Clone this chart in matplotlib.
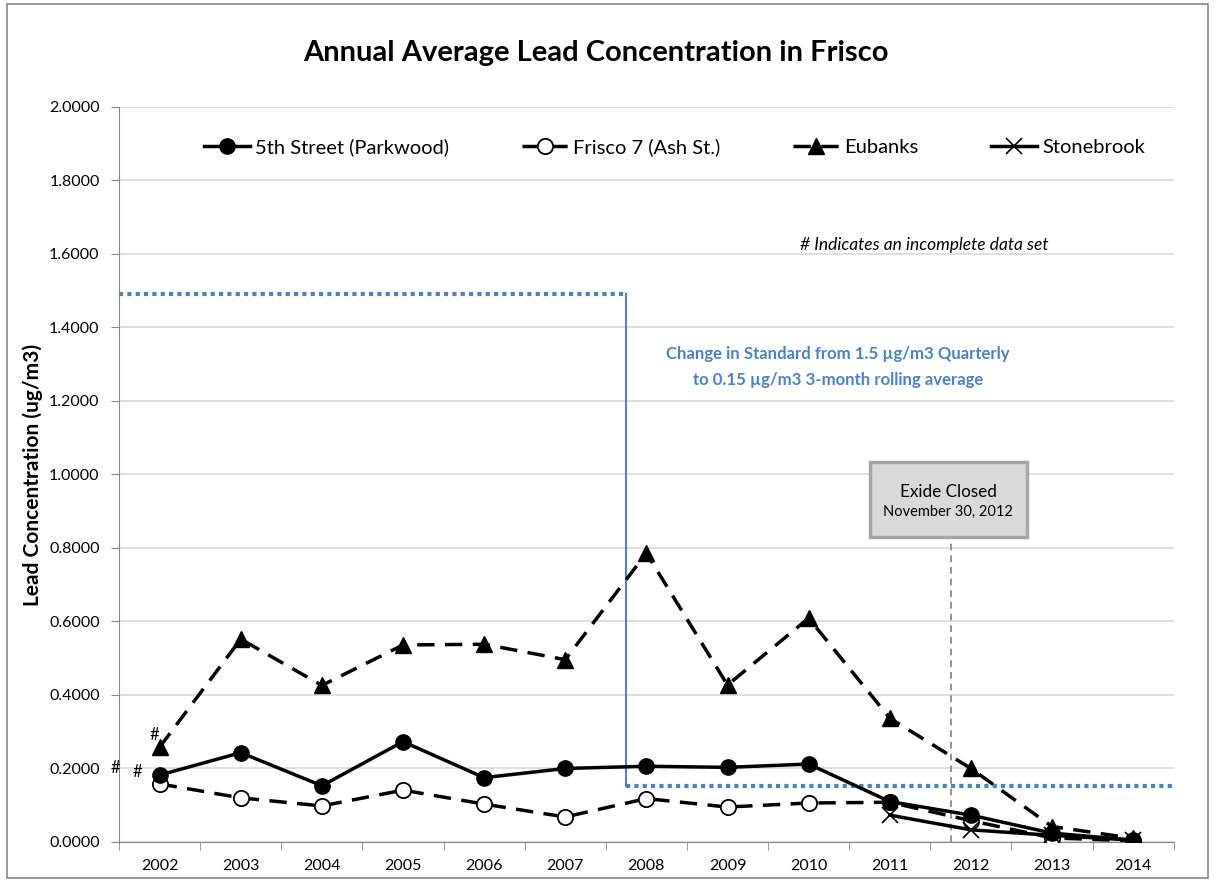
import numpy as np
import matplotlib
matplotlib.use("Agg")
import matplotlib.pyplot as plt
from matplotlib.patches import Rectangle

plt.rcParams['font.family'] = ['Lato', 'DejaVu Sans']

years = ["2002", "2003", "2004", "2005", "2006", "2007", "2008",
         "2009", "2010", "2011", "2012", "2013", "2014"]

fifth_street = [0.182, 0.243, 0.153, 0.273, 0.175, 0.200, 0.206,
                0.203, 0.212, 0.110, 0.073, 0.024, 0.005]
frisco7 = [0.158, 0.120, 0.098, 0.141, 0.103, 0.068, 0.118,
           0.095, 0.106, 0.108, 0.058, 0.011, 0.003]
eubanks = [0.258, 0.552, 0.426, 0.536, 0.538, 0.496, 0.786,
           0.427, 0.609, 0.337, 0.200, 0.042, 0.010]
stonebrook_years = ["2011", "2012", "2013", "2014"]
stonebrook = [0.073, 0.033, 0.018, 0.005]

old_standard = 1.49
new_standard = 0.152

blue = "#4f81bd"

fig = plt.figure(figsize=(12.15, 8.82), dpi=100)
ax = fig.add_axes([0.098, 0.0454, 0.868, 0.8333])

x = np.arange(len(years))
xs = np.array([years.index(y) for y in stonebrook_years])

ax.plot(x, fifth_street, color="black", lw=2.5, marker="o", ms=11,
        mfc="black", mec="black", label="5th Street (Parkwood)", zorder=5)
ax.plot(x, frisco7, color="black", lw=2.5, ls=(0, (5, 3)), marker="o", ms=11,
        mfc="white", mec="black", mew=1.3, label="Frisco 7 (Ash St.)", zorder=4)
ax.plot(x, eubanks, color="black", lw=2.5, ls=(0, (5, 3)), marker="^", ms=12,
        mfc="black", mec="black", label="Eubanks", zorder=4)
ax.plot(xs, stonebrook, color="black", lw=2.5, marker="x", ms=12, mew=1.2,
        label="Stonebrook", zorder=4)

# standards
ax.plot([-0.5, 5.75], [old_standard, old_standard], color=blue, lw=3,
        ls=(0, (1, 1)), zorder=3)
ax.plot([5.75, 5.75], [old_standard, new_standard], color=blue, lw=1.5, zorder=3)
ax.plot([5.75, 12.5], [new_standard, new_standard], color=blue, lw=3,
        ls=(0, (1, 1)), zorder=3)
ax.text(8.36, 1.293, "Change in Standard from 1.5 \u00b5g/m3 Quarterly\nto 0.15 \u00b5g/m3 3-month rolling average",
        color=blue, fontsize=12.1, fontweight="bold", ha="center", va="center",
        linespacing=1.75)

# Exide closure
ax.plot([9.75, 9.75], [0, 0.83], color="#7f7f7f", lw=1.2, ls=(0, (4, 3)), zorder=2)
ax.add_patch(Rectangle((8.76, 0.83), 1.93, 0.205, facecolor="#d9d9d9",
                       edgecolor="#a6a6a6", lw=2.5, zorder=6))
ax.text(9.72, 0.952, "Exide Closed", fontsize=12.3, ha="center", va="center", zorder=7)
ax.text(9.72, 0.898, "November 30, 2012", fontsize=10.5, ha="center", va="center", zorder=7)

ax.text(9.42, 1.625, "# Indicates an incomplete data set", fontsize=12.5,
        style="italic", ha="center", va="center")

# incomplete data marks
ax.text(-0.54, 0.2, "#", fontsize=12, ha="center", va="center", clip_on=False)
ax.text(-0.27, 0.19, "#", fontsize=12, ha="center", va="center", clip_on=False)
ax.text(-0.06, 0.29, "#", fontsize=12, ha="center", va="center", clip_on=False)

ax.set_xlim(-0.5, 12.5)
ax.set_ylim(0, 2.0)
ax.set_yticks(np.arange(0, 2.01, 0.2))
ax.set_yticklabels([f"{v:.4f}" for v in np.arange(0, 2.01, 0.2)])
ax.set_xticks(x)
ax.set_xticklabels(years)
ax.set_xticks(np.arange(-0.5, 12.6, 1), minor=True)
ax.tick_params(axis="x", which="major", length=0, pad=12, labelsize=11.5)
ax.tick_params(axis="x", which="minor", length=6, color="#868686", direction="out")
ax.tick_params(axis="y", length=6, color="#868686", labelsize=11.5, pad=8)
ax.yaxis.grid(True, color="#d9d9d9", lw=1.2)
ax.set_axisbelow(True)
for s in ["top", "right"]:
    ax.spines[s].set_visible(False)
for s in ["left", "bottom"]:
    ax.spines[s].set_color("#868686")

ax.set_ylabel("Lead Concentration (ug/m3)", fontsize=15, fontweight="bold", labelpad=4)

leg = ax.legend(loc="center", bbox_to_anchor=(0.5265, 0.9456), ncol=4, frameon=False,
                fontsize=14.5, columnspacing=3.6, handlelength=2.3, handletextpad=0.25)

fig.text(0.4905, 0.9395, "Annual Average Lead Concentration in Frisco", fontsize=21,
         fontweight="bold", ha="center", va="center")

fig.patches.append(Rectangle((0.006, 0.004), 0.988, 0.992, transform=fig.transFigure,
                             fill=False, edgecolor="#868686", lw=1.2))

fig.savefig("out.png", dpi=100)
